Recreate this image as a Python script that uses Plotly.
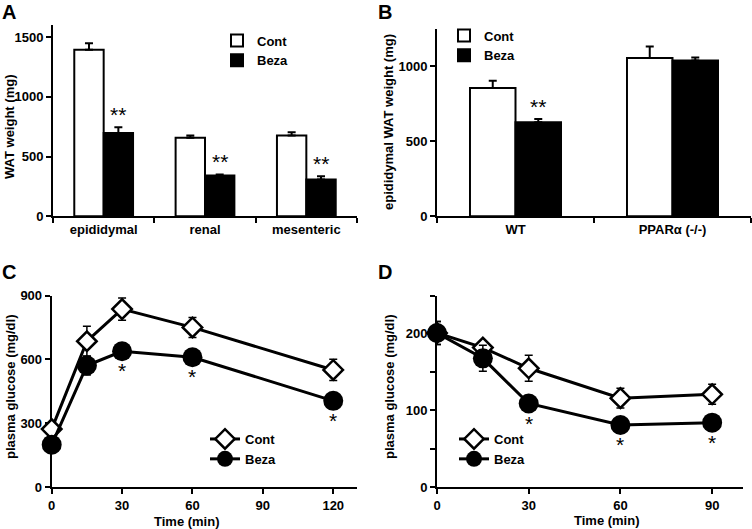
import plotly.graph_objects as go

# ---------------- data ----------------
# Panel A
a_categories = ["epididymal", "renal", "mesenteric"]
a_cont = [1392, 656, 675]
a_cont_err = [55, 19, 28]
a_beza = [697, 342, 308]
a_beza_err = [47, 8, 28]
a_sig = ["**", "**", "**"]

# Panel B
b_categories = ["WT", "PPARα (-/-)"]
b_cont = [856, 1056]
b_cont_err = [49, 77]
b_beza = [627, 1040]
b_beza_err = [22, 20]
b_sig = ["**", ""]

# Panel C
c_time = [0, 15, 30, 60, 120]
c_cont = [272, 685, 836, 750, 550]
c_cont_err = [20, 70, 52, 47, 50]
c_beza = [199, 571, 638, 610, 405]
c_beza_err = [15, 45, 15, 15, 15]
c_sig = ["", "", "*", "*", "*"]

# Panel D
d_time = [0, 15, 30, 60, 90]
d_cont = [201, 182, 155, 116, 121]
d_cont_err = [15, 5, 17, 13, 13]
d_beza = [201, 168, 109, 81, 84]
d_beza_err = [15, 17, 5, 4, 4]
d_sig = ["", "", "*", "*", "*"]

FONT = "Liberation Sans, Arial, sans-serif"
BOLD = dict(family=FONT, size=13, color="black", weight="bold")
STAR = dict(family=FONT, size=21, color="black")

fig = go.Figure()

# ---------------- bars ----------------
def add_bars(cats, cont, cont_err, beza, beza_err, xa, ya, leg):
    fig.add_trace(go.Bar(
        x=cats, y=cont, name="Cont", xaxis=xa, yaxis=ya, legend=leg,
        marker=dict(color="white", line=dict(color="black", width=2)),
        error_y=dict(type="data", symmetric=False, array=cont_err,
                     arrayminus=[0] * len(cats), color="black", thickness=2, width=4),
    ))
    fig.add_trace(go.Bar(
        x=cats, y=beza, name="Beza", xaxis=xa, yaxis=ya, legend=leg,
        marker=dict(color="black", line=dict(color="black", width=2)),
        error_y=dict(type="data", symmetric=False, array=beza_err,
                     arrayminus=[0] * len(cats), color="black", thickness=2, width=4),
    ))

add_bars(a_categories, a_cont, a_cont_err, a_beza, a_beza_err, "x", "y", "legend")
add_bars(b_categories, b_cont, b_cont_err, b_beza, b_beza_err, "x2", "y2", "legend2")

# ---------------- lines ----------------
def add_lines(t, cont, cont_err, beza, beza_err, xa, ya, leg):
    fig.add_trace(go.Scatter(
        x=t, y=cont, name="Cont", mode="lines+markers", xaxis=xa, yaxis=ya, legend=leg,
        line=dict(color="black", width=3), cliponaxis=False,
        marker=dict(symbol="diamond", size=15, color="white", line=dict(color="black", width=2.5)),
        error_y=dict(type="data", array=cont_err, color="black", thickness=1.5, width=4),
    ))
    fig.add_trace(go.Scatter(
        x=t, y=beza, name="Beza", mode="lines+markers", xaxis=xa, yaxis=ya, legend=leg,
        line=dict(color="black", width=3), cliponaxis=False,
        marker=dict(symbol="circle", size=20, color="black"),
        error_y=dict(type="data", array=beza_err, color="black", thickness=1.5, width=4),
    ))

add_lines(c_time, c_cont, c_cont_err, c_beza, c_beza_err, "x3", "y3", "legend3")
add_lines(d_time, d_cont, d_cont_err, d_beza, d_beza_err, "x4", "y4", "legend4")

# ---------------- axes ----------------
axis_common = dict(showline=True, linewidth=2, linecolor="black", ticks="outside",
                   ticklen=5, tickwidth=2, tickcolor="black", showgrid=False,
                   zeroline=False, tickfont=BOLD, automargin=False)

W, H = 752, 529
def xd(a, b):
    return [a / W, b / W]
def yd(bottom, top):
    return [1 - bottom / H, 1 - top / H]

layout_axes = dict(
    xaxis=dict(domain=xd(53, 357), anchor="y", type="category", range=[-0.5, 2.5],
               tickson="boundaries", **axis_common),
    yaxis=dict(domain=yd(216.3, 25), anchor="x", range=[0, 1600],
               tickvals=[0, 500, 1000, 1500], **axis_common),
    xaxis2=dict(domain=xd(437, 751), anchor="y2", type="category", range=[-0.5, 1.5],
                tickson="boundaries", **axis_common),
    yaxis2=dict(domain=yd(216.3, 29), anchor="x2", range=[0, 1250],
                tickvals=[0, 500, 1000], **axis_common),
    xaxis3=dict(domain=xd(51.7, 356.7), anchor="y3", range=[0, 130],
                tickvals=[0, 30, 60, 90, 120], layer="below traces", **axis_common),
    yaxis3=dict(domain=yd(487, 295.5), anchor="x3", range=[0, 900],
                tickvals=[0, 300, 600, 900], layer="below traces", **axis_common),
    xaxis4=dict(domain=xd(437, 742.7), anchor="y4", range=[0, 100],
                tickvals=[0, 30, 60, 90], layer="below traces", **axis_common),
    yaxis4=dict(domain=yd(487, 295.5), anchor="x4", range=[0, 250],
                tickvals=[0, 100, 200], layer="below traces",
                minor=dict(tickvals=[50, 150, 250], ticklen=5, tickwidth=2,
                           tickcolor="black", ticks="outside"),
                **axis_common),
)

legend_common = dict(font=BOLD, bgcolor="rgba(0,0,0,0)", borderwidth=0,
                     xanchor="left", yanchor="top", tracegroupgap=0)

annotations = []
# significance marks
bw = (1 - 0.42) / 2
for i, s in enumerate(a_sig):
    if s:
        annotations.append(dict(x=i + bw / 2, y=a_beza[i] + a_beza_err[i], xref="x", yref="y",
                                text=s, showarrow=False, yanchor="bottom", yshift=-1, font=STAR))
for i, s in enumerate(b_sig):
    if s:
        annotations.append(dict(x=i + bw / 2, y=b_beza[i] + b_beza_err[i], xref="x2", yref="y2",
                                text=s, showarrow=False, yanchor="bottom", yshift=-1, font=STAR))
for i, s in enumerate(c_sig):
    if s:
        annotations.append(dict(x=c_time[i], y=c_beza[i], xref="x3", yref="y3",
                                text=s, showarrow=False, yanchor="top", yshift=-6, font=STAR))
for i, s in enumerate(d_sig):
    if s:
        annotations.append(dict(x=d_time[i], y=d_beza[i], xref="x4", yref="y4",
                                text=s, showarrow=False, yanchor="top", yshift=-6, font=STAR))

# panel letters
for letter, px, py in [("A", 0, -1), ("B", 376, -1), ("C", 0, 259), ("D", 376, 259)]:
    annotations.append(dict(x=px / W, y=1 - py / H, xref="paper", yref="paper", text=letter,
                            showarrow=False, xanchor="left", yanchor="top",
                            font=dict(family=FONT, size=20, color="black", weight="bold")))

# axis titles
for txt, px, py, ang in [("WAT weight (mg)", 10, 127, -90),
                         ("epididymal WAT weight (mg)", 389, 122, -90),
                         ("plasma glucose (mg/dl)", 10, 387, -90),
                         ("plasma glucose (mg/dl)", 389, 387, -90),
                         ("Time (min)", 187, 521, 0),
                         ("Time (min)", 607, 520, 0)]:
    annotations.append(dict(x=px / W, y=1 - py / H, xref="paper", yref="paper", text=txt,
                            showarrow=False, xanchor="center", yanchor="middle", textangle=ang,
                            font=BOLD))

fig.update_layout(
    width=W, height=H, margin=dict(l=0, r=0, t=0, b=0, pad=0, autoexpand=False),
    paper_bgcolor="white", plot_bgcolor="white",
    barmode="group", bargap=0.42, bargroupgap=0,
    showlegend=True,
    legend=dict(x=217 / W, y=1 - 25.5 / H, **legend_common),
    legend2=dict(x=444 / W, y=1 - 20.5 / H, **legend_common),
    legend3=dict(x=205 / W, y=1 - 424 / H, **legend_common),
    legend4=dict(x=454 / W, y=1 - 424 / H, **legend_common),
    annotations=annotations,
    **layout_axes,
)

fig.write_html("out.html", config={"displayModeBar": False},
               post_script="document.body.style.margin='0';document.body.style.padding='0';")
